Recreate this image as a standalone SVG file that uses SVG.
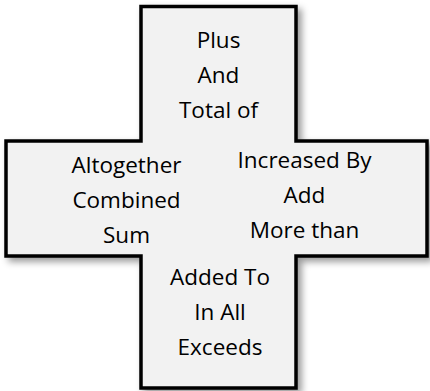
<svg xmlns="http://www.w3.org/2000/svg" width="430" height="391" viewBox="0 0 430 391">
  <defs>
    <filter id="shadow" x="-10%" y="-10%" width="125%" height="125%">
      <feDropShadow dx="4" dy="4" stdDeviation="3.5" flood-color="#000" flood-opacity="0.4"/>
    </filter>
  </defs>
  <style>
    .cross { fill: #f2f2f2; stroke: #000; stroke-width: 3.5; stroke-linejoin: miter; }
    .lbl { font-family: "Open Sans", "Liberation Sans", sans-serif; font-size: 22.5px; fill: #000; text-anchor: middle; }
  </style>
  <rect width="430" height="391" fill="#ffffff"/>
  <g id="cross-shape">
    <path class="cross" filter="url(#shadow)" d="M141,6.5 H296 V141 H427 V256 H296 V388 H141 V256 H6 V141 H141 Z"/>
  </g>
  <g id="connectors"></g>
  <g id="top-terms">
    <text class="lbl" x="218.5" y="48">Plus</text>
    <text class="lbl" x="218.5" y="83">And</text>
    <text class="lbl" x="218.5" y="118">Total of</text>
  </g>
  <g id="left-terms">
    <text class="lbl" x="126.5" y="173">Altogether</text>
    <text class="lbl" x="126.5" y="208">Combined</text>
    <text class="lbl" x="126.5" y="243">Sum</text>
  </g>
  <g id="right-terms">
    <text class="lbl" x="304.5" y="168">Increased By</text>
    <text class="lbl" x="304.5" y="203">Add</text>
    <text class="lbl" x="304.5" y="238">More than</text>
  </g>
  <g id="bottom-terms">
    <text class="lbl" x="220" y="285">Added To</text>
    <text class="lbl" x="220" y="320">In All</text>
    <text class="lbl" x="220" y="355">Exceeds</text>
  </g>
</svg>
